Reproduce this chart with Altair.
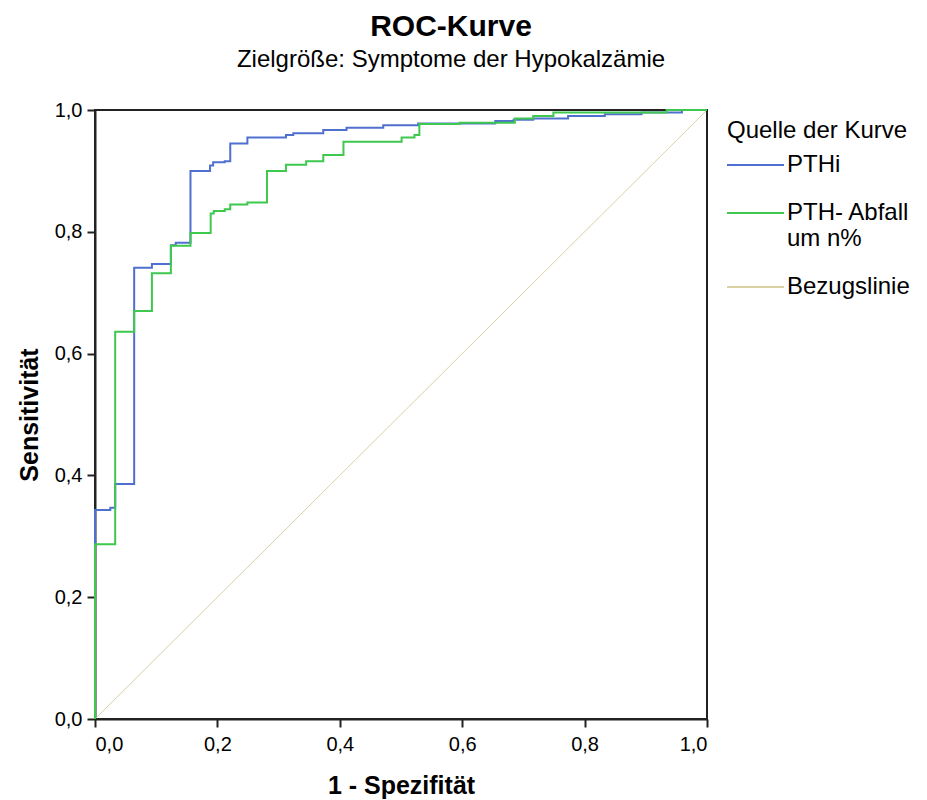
import altair as alt
import pandas as pd

FONT = "Liberation Sans, Arial, sans-serif"

series_names = ["PTHi", "PTH- Abfall um n%", "Bezugslinie"]
series_colors = ["#5070d0", "#3ec84e", "#d9d0a4"]

pthi_fpr = [0.0, 0.0, 0.025, 0.033, 0.064, 0.093, 0.124, 0.132, 0.156, 0.188, 0.193,
            0.212, 0.221, 0.249, 0.312, 0.324, 0.373, 0.411, 0.471, 0.528, 0.654,
            0.684, 0.716, 0.773, 0.833, 0.893, 0.959, 1.0]
pthi_tpr = [0.0, 0.343, 0.347, 0.386, 0.741, 0.747, 0.778, 0.782, 0.900, 0.909, 0.914,
            0.916, 0.945, 0.955, 0.959, 0.962, 0.967, 0.971, 0.975, 0.978, 0.982,
            0.984, 0.986, 0.990, 0.993, 0.996, 1.0, 1.0]

abfall_fpr = [0.0, 0.0, 0.033, 0.064, 0.093, 0.124, 0.156, 0.189, 0.194, 0.212, 0.221,
              0.249, 0.281, 0.312, 0.345, 0.373, 0.406, 0.501, 0.522, 0.530, 0.596,
              0.686, 0.716, 0.749, 0.934, 1.0]
abfall_tpr = [0.0, 0.287, 0.636, 0.670, 0.732, 0.777, 0.798, 0.830, 0.834, 0.837, 0.845,
              0.848, 0.900, 0.910, 0.916, 0.926, 0.948, 0.955, 0.959, 0.977, 0.979,
              0.986, 0.990, 0.996, 1.0, 1.0]

ref_fpr = [0.0, 1.0]
ref_tpr = [0.0, 1.0]

tick_values = [0.0, 0.2, 0.4, 0.6, 0.8, 1.0]

rows = []
for name, xs, ys in [("Bezugslinie", ref_fpr, ref_tpr),
                     ("PTHi", pthi_fpr, pthi_tpr),
                     ("PTH- Abfall um n%", abfall_fpr, abfall_tpr)]:
    for i, (xv, yv) in enumerate(zip(xs, ys)):
        rows.append({"series": name, "fpr": xv, "tpr": yv, "idx": i})
df = pd.DataFrame(rows)

label_expr = "replace(format(datum.value, '.1f'), '.', ',')"

x_enc = alt.X("fpr:Q", scale=alt.Scale(domain=[0, 1], nice=False),
              axis=alt.Axis(values=tick_values, labelExpr=label_expr, title="1 - Spezifität",
                            grid=False, tickSize=8, labelPadding=7, titlePadding=19))
y_enc = alt.Y("tpr:Q", scale=alt.Scale(domain=[0, 1], nice=False),
              axis=alt.Axis(values=tick_values, labelExpr=label_expr, title="Sensitivität",
                            grid=False, tickSize=8, labelPadding=5, titlePadding=12))

# long horizontal legend stroke drawn with a small symbol size so rows stay compact
legend_stroke = "M-3,0H11.25"

color_enc = alt.Color(
    "series:N",
    scale=alt.Scale(domain=series_names, range=series_colors),
    sort=series_names,
    legend=alt.Legend(
        title="Quelle der Kurve", titleLimit=400,
        orient="none", legendX=632, legendY=9,
        symbolType=legend_stroke, symbolSize=64, symbolStrokeWidth=2,
        labelExpr="datum.label == 'PTH- Abfall um n%' ? ['PTH- Abfall', 'um n%'] : datum.label",
        labelLimit=300, rowPadding=24, labelOffset=36, titlePadding=10,
    ),
)

base = alt.Chart(df)

ref_line = base.transform_filter(alt.datum.series == "Bezugslinie").mark_line(
    strokeWidth=1, interpolate="linear"
).encode(x=x_enc, y=y_enc, color=color_enc, order="idx:Q")

curves = base.transform_filter(alt.datum.series != "Bezugslinie").mark_line(
    strokeWidth=2, interpolate="step-after"
).encode(x=x_enc, y=y_enc, color=color_enc, order="idx:Q", detail="series:N")

chart = alt.layer(ref_line, curves).properties(
    width=612, height=609,
    title=alt.TitleParams(
        text="ROC-Kurve", subtitle="Zielgröße: Symptome der Hypokalzämie",
        anchor="middle", dx=50, offset=28,
        font=FONT, fontSize=30, fontWeight="bold", color="black",
        subtitleFont=FONT, subtitleFontSize=24, subtitleColor="black", subtitlePadding=6,
    ),
    autosize=alt.AutoSizeParams(type="none"),
    padding={"left": 95, "top": 110, "right": 220, "bottom": 81},
).configure_view(
    stroke="#222", strokeWidth=2
).configure_axis(
    labelFont=FONT, labelFontSize=20, labelColor="black",
    titleFont=FONT, titleFontSize=25, titleFontWeight="bold", titleColor="black",
    domainColor="#222", domainWidth=2, tickColor="#222", tickWidth=2,
).configure_legend(
    titleFont=FONT, titleFontSize=24, titleFontWeight="normal", titleColor="black",
    labelFont=FONT, labelFontSize=24, labelColor="black",
)

chart.save("out.html", embed_options={"renderer": "svg", "actions": False})
